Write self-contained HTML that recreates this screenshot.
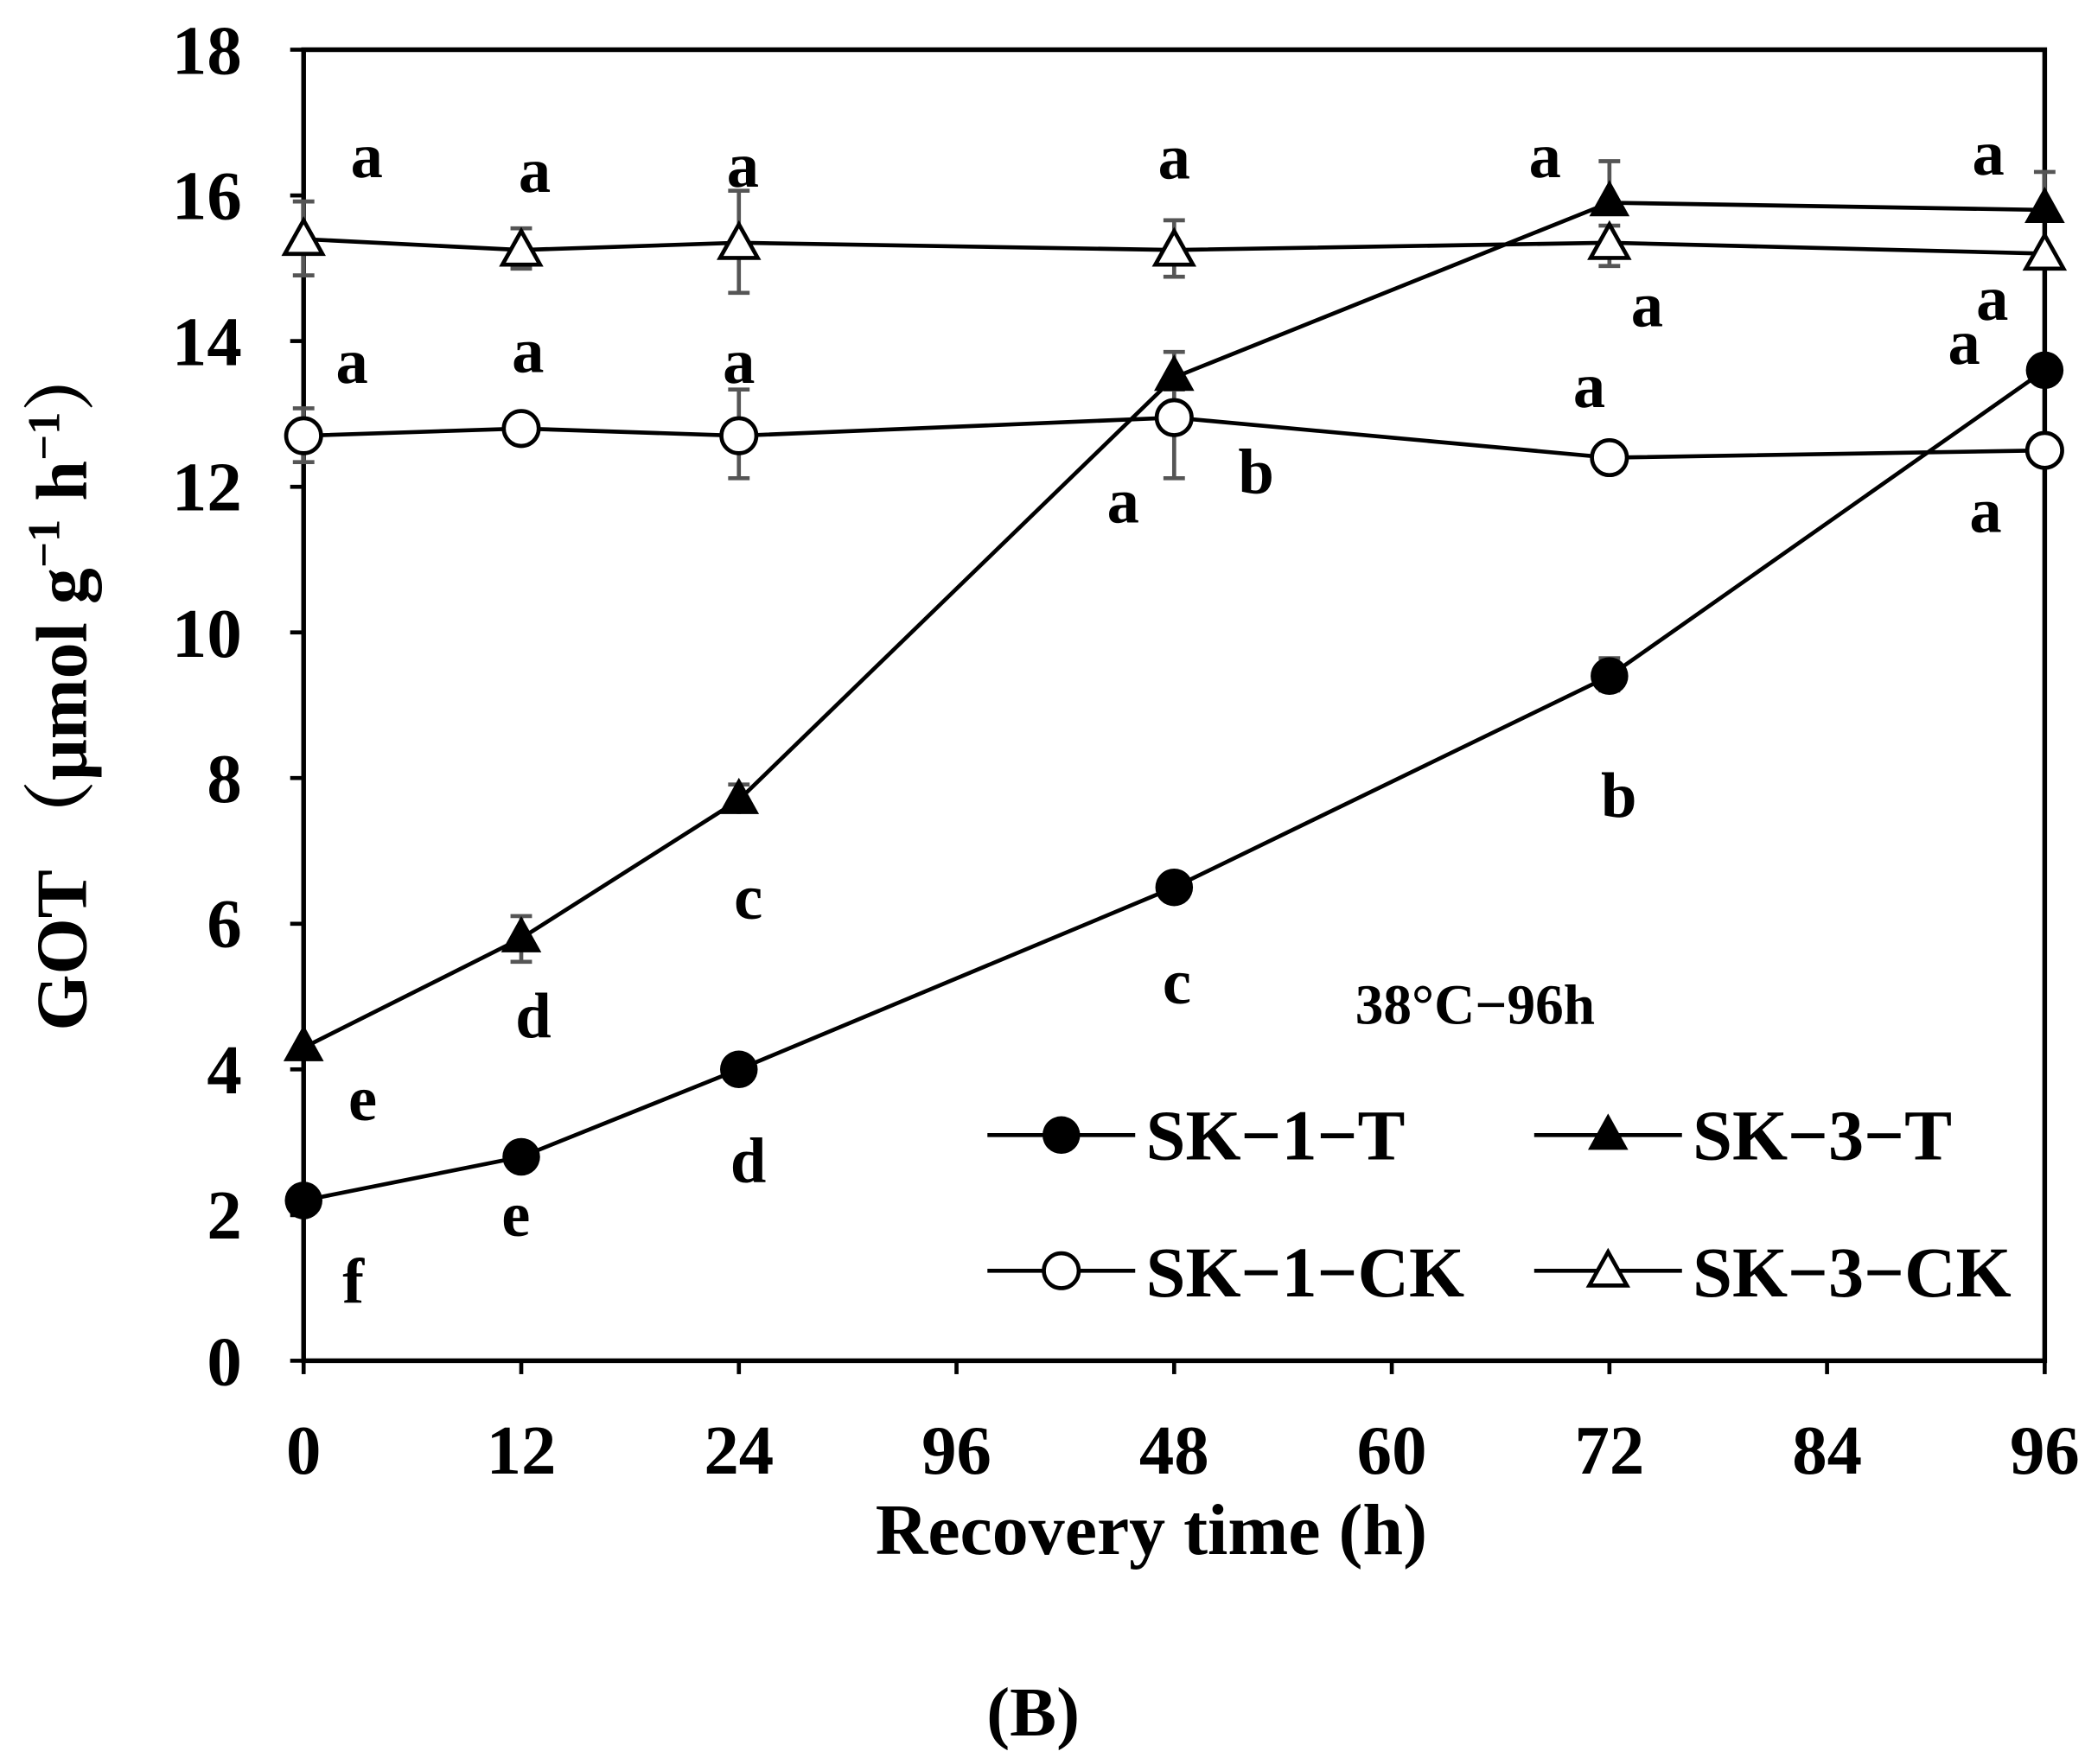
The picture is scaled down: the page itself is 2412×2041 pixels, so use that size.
<!DOCTYPE html>
<html><head><style>html,body{margin:0;padding:0;background:#fff;}</style></head>
<body>
<svg width="2412" height="2036" viewBox="0 0 1552 1310" preserveAspectRatio="none" xmlns="http://www.w3.org/2000/svg" font-family="Liberation Serif, serif" font-weight="bold">
<rect width="1552" height="1310" fill="#fff"/>
<rect x="226" y="37" width="1296" height="976" fill="none" stroke="#000" stroke-width="3.5"/>
<g stroke="#000" stroke-width="3">
<line x1="226" y1="1013" x2="216" y2="1013"/><line x1="226" y1="904.6" x2="216" y2="904.6"/><line x1="226" y1="796.1" x2="216" y2="796.1"/><line x1="226" y1="687.7" x2="216" y2="687.7"/><line x1="226" y1="579.2" x2="216" y2="579.2"/><line x1="226" y1="470.8" x2="216" y2="470.8"/><line x1="226" y1="362.4" x2="216" y2="362.4"/><line x1="226" y1="253.9" x2="216" y2="253.9"/><line x1="226" y1="145.5" x2="216" y2="145.5"/><line x1="226" y1="37" x2="216" y2="37"/>
<line x1="226" y1="1013" x2="226" y2="1023"/><line x1="388" y1="1013" x2="388" y2="1023"/><line x1="550" y1="1013" x2="550" y2="1023"/><line x1="712" y1="1013" x2="712" y2="1023"/><line x1="874" y1="1013" x2="874" y2="1023"/><line x1="1036" y1="1013" x2="1036" y2="1023"/><line x1="1198" y1="1013" x2="1198" y2="1023"/><line x1="1360" y1="1013" x2="1360" y2="1023"/><line x1="1522" y1="1013" x2="1522" y2="1023"/>
</g>
<g font-size="52" text-anchor="end">
<text x="180" y="1031">0</text><text x="180" y="922">2</text><text x="180" y="814">4</text><text x="180" y="705">6</text><text x="180" y="597">8</text><text x="180" y="489">10</text><text x="180" y="380">12</text><text x="180" y="272">14</text><text x="180" y="163">16</text><text x="180" y="55">18</text>
</g>
<g font-size="52" text-anchor="middle">
<text x="226" y="1097">0</text><text x="388" y="1097">12</text><text x="550" y="1097">24</text><text x="712" y="1097">96</text><text x="874" y="1097">48</text><text x="1036" y="1097">60</text><text x="1198" y="1097">72</text><text x="1360" y="1097">84</text><text x="1522" y="1097">96</text>
<text x="857" y="1157" font-size="54">Recovery time (h)</text>
<text x="769" y="1292" font-size="52">(B)</text>
</g>
<text transform="translate(64,510) rotate(-90)" font-size="54" text-anchor="middle" font-family="Liberation Serif, Noto Serif CJK SC, serif">GOT （μmol g<tspan font-size="34" dy="-20">−1</tspan><tspan dy="20"> h</tspan><tspan font-size="34" dy="-20">−1</tspan><tspan dy="20">）</tspan></text>
<g stroke="#555" stroke-width="3" fill="none">
<path d="M226 150v55M218 150h16M218 205h16"/>
<path d="M388 170v30M380 170h16M380 200h16"/>
<path d="M550 142v76M542 142h16M542 218h16"/>
<path d="M874 164v42M866 164h16M866 206h16"/>
<path d="M1198 168v30M1190 168h16M1190 198h16"/>
<path d="M1522 128v35M1514 128h16"/>
<path d="M1198 120v30M1190 120h16"/>
<path d="M874 262v20M866 262h16"/>
<path d="M226 304v40M218 304h16M218 344h16"/>
<path d="M550 290v66M542 290h16M542 356h16"/>
<path d="M874 290v66M866 290h16M866 356h16"/>
<path d="M388 682v34M380 682h16M380 716h16"/>
<path d="M550 584v22M542 584h16"/>
<path d="M1198 490v24M1190 490h16M1190 514h16"/>
</g>
<g stroke="#000" stroke-width="3" fill="none">
<polyline points="226,893.7 388,861.2 550,796.1 874,660.6 1198,503.3 1522,275.6"/>
<polyline points="226,779.9 388,698.5 550,595.5 874,281 1198,150.9 1522,156.3"/>
<polyline points="226,324.4 388,319 550,324.4 874,310.9 1198,340.7 1522,335.3"/>
<polyline points="226,178 388,186.1 550,180.7 874,186.1 1198,180.7 1522,188.8"/>
</g>
<g fill="#000">
<circle cx="226" cy="893.7" r="14"/><circle cx="388" cy="861.2" r="14"/><circle cx="550" cy="796.1" r="14"/><circle cx="874" cy="660.6" r="14"/><circle cx="1198" cy="503.3" r="14"/><circle cx="1522" cy="275.6" r="14"/>
<path d="M226 763l15 27h-30z"/><path d="M388 682l15 27h-30z"/><path d="M550 579l15 27h-30z"/><path d="M874 264l15 27h-30z"/><path d="M1198 134l15 27h-30z"/><path d="M1522 139l15 27h-30z"/>
</g>
<g fill="#fff" stroke="#000" stroke-width="3">
<circle cx="226" cy="324.4" r="13"/><circle cx="388" cy="319" r="13"/><circle cx="550" cy="324.4" r="13"/><circle cx="874" cy="310.9" r="13"/><circle cx="1198" cy="340.7" r="13"/><circle cx="1522" cy="335.3" r="13"/>
<path d="M226 164l14 25h-28z"/><path d="M388 172l14 25h-28z"/><path d="M550 167l14 25h-28z"/><path d="M874 172l14 25h-28z"/><path d="M1198 167l14 25h-28z"/><path d="M1522 175l14 25h-28z"/>
</g>
<g font-size="48" text-anchor="middle">
<text x="273" y="132">a</text><text x="398" y="143">a</text><text x="553" y="139">a</text><text x="874" y="133">a</text><text x="1150" y="132">a</text><text x="1480" y="130">a</text>
<text x="1226" y="243">a</text><text x="1483" y="238">a</text><text x="1462" y="271">a</text>
<text x="262" y="285">a</text><text x="393" y="277">a</text><text x="550" y="285">a</text><text x="1183" y="303">a</text>
<text x="836" y="389">a</text><text x="935" y="367">b</text><text x="1478" y="396">a</text>
<text x="1205" y="608">b</text><text x="557" y="684">c</text><text x="876" y="747">c</text>
<text x="397" y="772">d</text><text x="270" y="834">e</text><text x="557" y="880">d</text><text x="384" y="920">e</text><text x="263" y="970">f</text>
<text x="1098" y="762" font-size="42">38°C−96h</text>
</g>
<g stroke="#000" stroke-width="3">
<line x1="735" y1="845" x2="845" y2="845"/><line x1="1142" y1="845" x2="1252" y2="845"/>
<line x1="735" y1="946" x2="845" y2="946"/><line x1="1142" y1="946" x2="1252" y2="946"/>
</g>
<circle cx="790" cy="845" r="14"/>
<path d="M1197 829l15 27h-30z"/>
<circle cx="790" cy="946" r="13" fill="#fff" stroke="#000" stroke-width="3"/>
<path d="M1197 932l14 25h-28z" fill="#fff" stroke="#000" stroke-width="3"/>
<g font-size="53">
<text x="853" y="863">SK−1−T</text><text x="1260" y="863">SK−3−T</text>
<text x="853" y="965">SK−1−CK</text><text x="1260" y="965">SK−3−CK</text>
</g>
</svg>
</body></html>
